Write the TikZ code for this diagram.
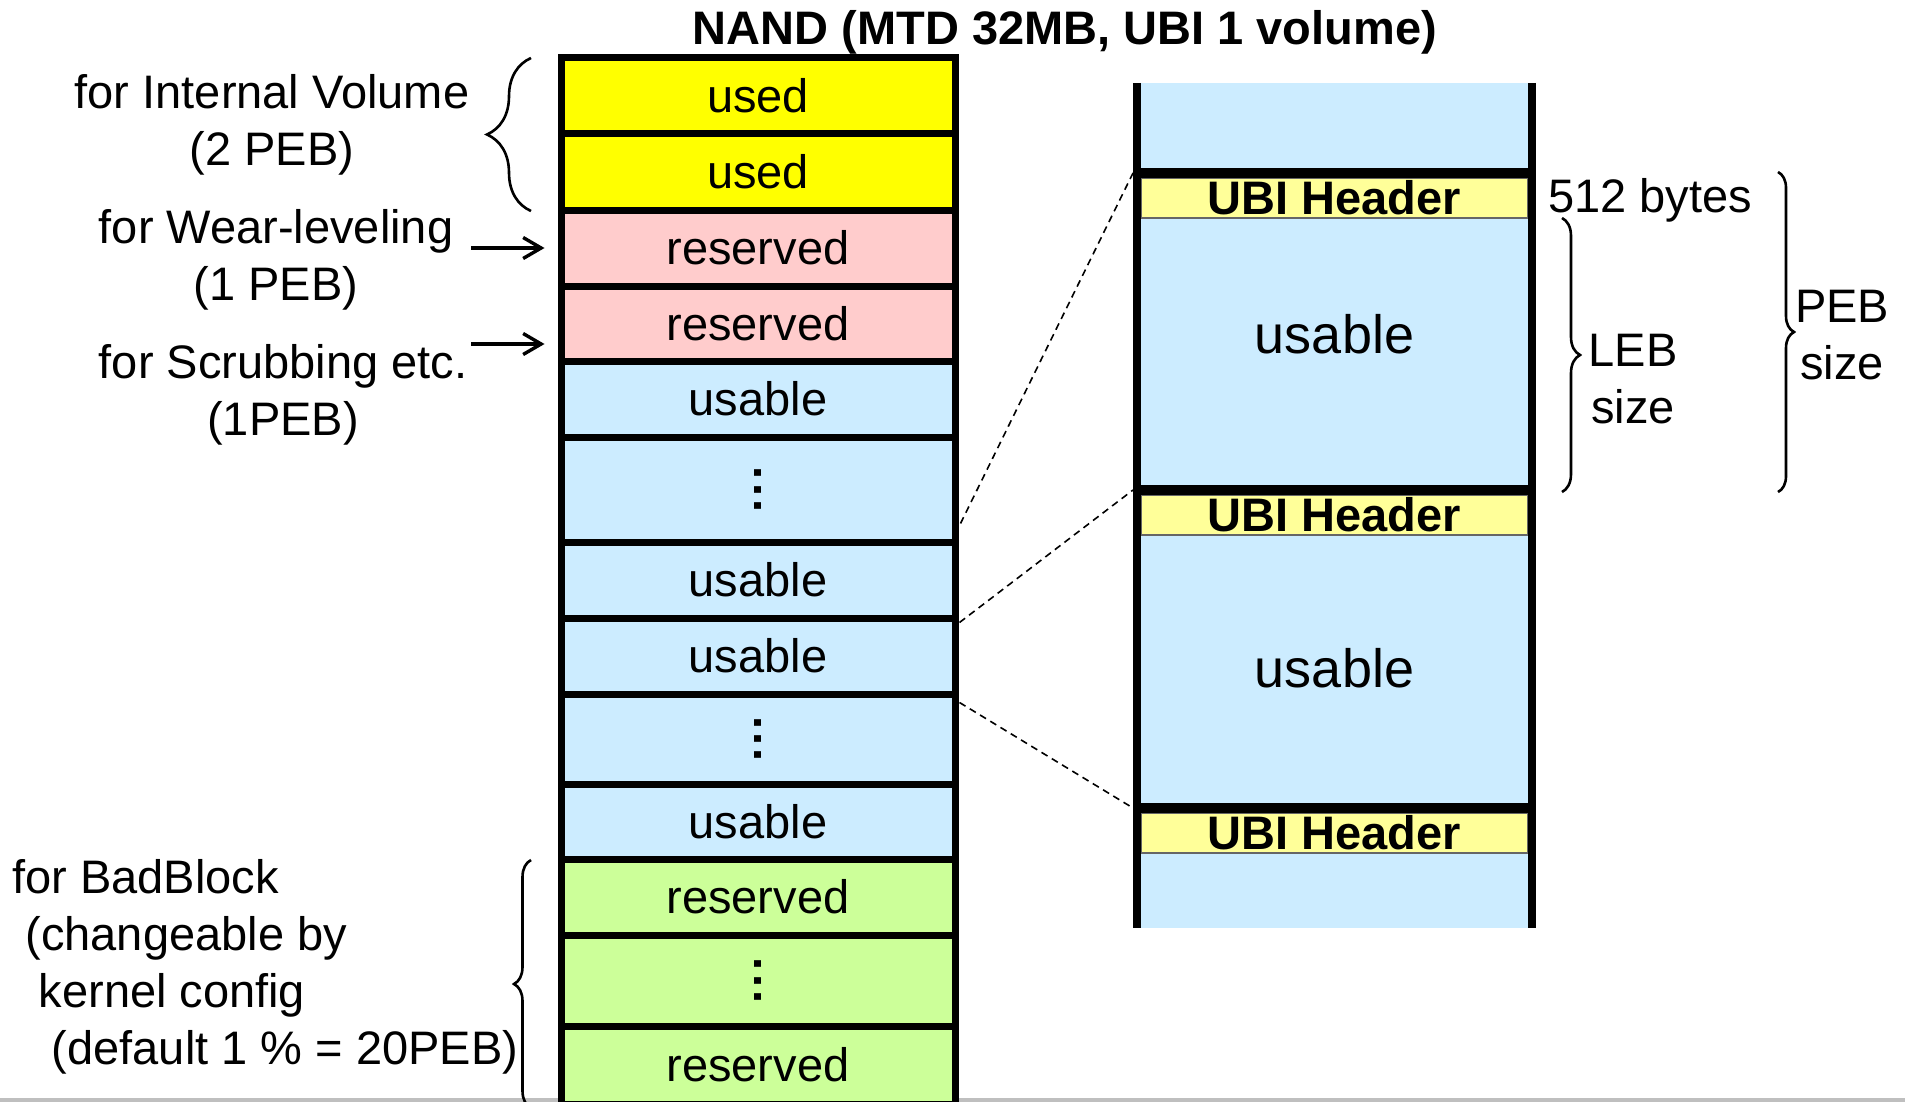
\documentclass[tikz,border=0pt]{standalone}
\usepackage{fontspec}
\setmainfont{Liberation Sans}
\usepackage{xcolor}
\usetikzlibrary{arrows.meta,calc,decorations.pathreplacing}

\definecolor{usedyellow}{HTML}{FFFF00}
\definecolor{respink}{HTML}{FFCCCC}
\definecolor{usablue}{HTML}{CCECFF}
\definecolor{badgreen}{HTML}{CCFF99}
\definecolor{hdryellow}{HTML}{FFFF99}

\tikzset{
    peb/.style={draw, line width=3.5pt, minimum width=197pt, inner sep=0pt, align=center},
    dotsmark/.style={rotate=90, inner sep=0pt, font=\bfseries\fontsize{23.5}{28.5}\selectfont},
    ubihdr/.style={draw=black!60, line width=0.6pt, fill=hdryellow, minimum width=193.5pt,
        minimum height=20pt, inner sep=0pt, font=\bfseries\fontsize{23.5}{28.5}\selectfont},
    brc/.style={decorate, decoration={brace, amplitude=#1}, line width=1.3pt},
    pointer/.style={line width=1.7pt, -{Straight Barb[length=9pt, width=10.5pt]}},
    mapline/.style={line width=0.8pt, dash pattern=on 3.5pt off 2.5pt},
}

\begin{document}
\begin{tikzpicture}[x=0.5pt, y=-0.5pt, font=\fontsize{23.5}{28.5}\selectfont]
    \useasboundingbox (0,0) rectangle (1905,1102);
    \draw[gray!50, line width=2.5pt] (0,1100) -- (1905,1100);

    \node[font=\bfseries\fontsize{23.5}{28.5}\selectfont, anchor=base] (title) at (1065,45) {NAND (MTD 32MB, UBI 1 volume)};

    \node[peb, fill=usedyellow, minimum height=38pt] (usedA) at (758,96) {used};
    \node[peb, fill=usedyellow, minimum height=38pt] (usedB) at (758,172) {used};
    \node[peb, fill=respink, minimum height=38pt] (resA) at (758,248) {reserved};
    \node[peb, fill=respink, minimum height=37.5pt] (resB) at (758,323.5) {reserved};
    \node[peb, fill=usablue, minimum height=38pt] (usableA) at (758,399) {usable};
    \node[peb, fill=usablue, minimum height=52.5pt] (dotsA) at (758,489.5) {};
    \node[peb, fill=usablue, minimum height=38pt] (usableB) at (758,580) {usable};
    \node[peb, fill=usablue, minimum height=38pt] (usableC) at (758,656) {usable};
    \node[peb, fill=usablue, minimum height=45pt] (dotsB) at (758,739) {};
    \node[peb, fill=usablue, minimum height=37.5pt] (usableD) at (758,821.5) {usable};
    \node[peb, fill=badgreen, minimum height=38pt] (badA) at (758,897) {reserved};
    \node[peb, fill=badgreen, minimum height=45.5pt] (dotsC) at (758,980.5) {};
    \node[peb, fill=badgreen, minimum height=39pt] (badB) at (758,1065) {reserved};

    \node[dotsmark] (vdA) at (dotsA.center) {.\kern1.5pt.\kern1.5pt.};
    \node[dotsmark] (vdB) at (dotsB.center) {.\kern1.5pt.\kern1.5pt.};
    \node[dotsmark] (vdC) at (dotsC.center) {.\kern1.5pt.\kern1.5pt.};

    \node[align=center] (ivol) at (272,125) {for Internal Volume\\(2 PEB)};
    \node[align=center] (wlvl) at (276,260) {for Wear-leveling\\(1 PEB)};
    \node[align=center] (scrb) at (283,395) {for Scrubbing etc.\\(1PEB)};
    \node[align=left, anchor=west, inner sep=0pt] (bblk) at (12,967) {for BadBlock\\\hspace*{0.28em}(changeable by\\\hspace*{0.56em}kernel config\\\hspace*{0.84em}(default 1 \% = 20PEB)};

    \draw[brc=22pt] (531,211) -- (531,58);
    \draw[brc=8.5pt] (531,1108) -- (531,860);

    \coordinate (wlTail) at (471,248);
    \coordinate (scTail) at (471,344);
    \draw[pointer] (wlTail) -- ($(wlTail -| resA.west)+(-13,0)$);
    \draw[pointer] (scTail) -- ($(scTail -| resB.west)+(-13,0)$);

    \fill[usablue] (1137,83) rectangle (1532,928);
    \node[ubihdr] (hdrA) at (1334.5,198) {UBI Header};
    \node[ubihdr] (hdrB) at (1334.5,515) {UBI Header};
    \node[ubihdr] (hdrC) at (1334.5,833) {UBI Header};
    \node[font=\fontsize{27}{32}\selectfont] (lebA) at (1334.5,334) {usable};
    \node[font=\fontsize{27}{32}\selectfont] (lebB) at (1334.5,668) {usable};
    \coordinate (sepA) at (1133,173);
    \coordinate (sepB) at (1133,490);
    \coordinate (sepC) at (1133,808);
    \draw[line width=5pt] (sepA) -- ++(403,0);
    \draw[line width=5pt] (sepB) -- ++(403,0);
    \draw[line width=5pt] (sepC) -- ++(403,0);
    \draw[line width=4pt] (1137,83) -- (1137,928);
    \draw[line width=4pt] (1532,83) -- (1532,928);

    \draw[mapline] ($(dotsA.south east)+(2,-22)$) -- (sepA);
    \draw[mapline] ($(usableC.north east)+(1,8)$) -- (sepB);
    \draw[mapline] ($(usableC.south east)+(1,5)$) -- (sepC);

    \node[anchor=base west, inner sep=0pt] (hdrsize) at (1548,212) {512 bytes};
    \node[align=center] (lebsize) at (1633,379) {LEB\\size};
    \node[align=center] (pebsize) at (1842,335) {PEB\\size};
    \draw[brc=9pt] (1562,218) -- (1562,492);
    \draw[brc=8pt] (1778,172) -- (1778,492);

\end{tikzpicture}
\end{document}
